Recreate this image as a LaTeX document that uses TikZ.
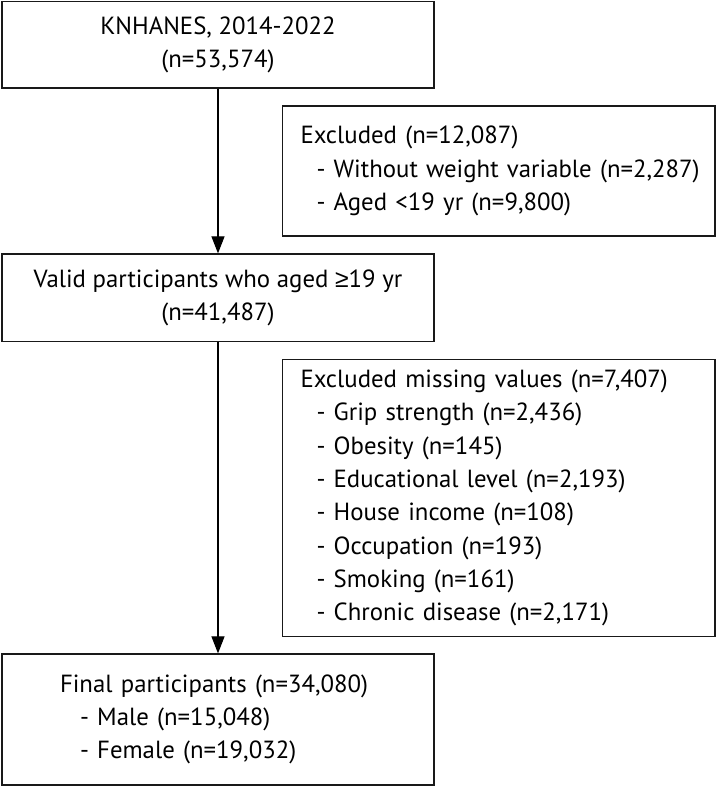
\documentclass[tikz,border=0pt]{standalone}
\usepackage{fontspec}
\setmainfont{PT Sans}
\newfontfamily\symfont{Liberation Sans}
\usetikzlibrary{arrows.meta}
\begin{document}
\begin{tikzpicture}[x=1pt,y=-1pt,
  box/.style={draw=black!90,line width=1.2pt,inner ysep=0pt,font=\fontsize{24.8}{33.3}\selectfont},
  cbox/.style={box,align=center,inner xsep=0pt},
  lbox/.style={box,align=left},
  flow/.style={line width=1.1pt,-{Triangle[width=13pt,length=17pt]}}]
\useasboundingbox (0,0) rectangle (717,786);
\node[cbox,minimum width=432pt,minimum height=86.5pt] (src) at (218,44.75)
  {KNHANES, 2014-2022\\(n=53,574)};
\node[lbox,inner xsep=18pt,text width=396.5pt,minimum height=130pt] (ex1) at (498.75,171)
  {\mbox{Excluded (n=12,087)}\\
   \mbox{\hspace*{16pt}- Without weight variable (n=2,287)}\\
   \mbox{\hspace*{16pt}- Aged <19 yr (n=9,800)}};
\node[cbox,minimum width=432pt,minimum height=87.5pt] (valid) at (218,297.75)
  {Valid participants who aged {\symfont ≥}19 yr\\(n=41,487)};
\node[lbox,inner xsep=18pt,text width=396.5pt,minimum height=277pt] (ex2) at (498.75,498)
  {\mbox{Excluded missing values (n=7,407)}\\
   \mbox{\hspace*{16pt}- Grip strength (n=2,436)}\\
   \mbox{\hspace*{16pt}- Obesity (n=145)}\\
   \mbox{\hspace*{16pt}- Educational level (n=2,193)}\\
   \mbox{\hspace*{16pt}- House income (n=108)}\\
   \mbox{\hspace*{16pt}- Occupation (n=193)}\\
   \mbox{\hspace*{16pt}- Smoking (n=161)}\\
   \mbox{\hspace*{16pt}- Chronic disease (n=2,171)}};
\node[lbox,inner xsep=58pt,text width=316pt,minimum height=131pt] (final) at (218,719.5)
  {\mbox{Final participants (n=34,080)}\\
   \mbox{\hspace*{20pt}- Male (n=15,048)}\\
   \mbox{\hspace*{20pt}- Female (n=19,032)}};
\draw[flow] (src.south) -- (valid.north);
\draw[flow] (valid.south) -- (final.north);
\end{tikzpicture}
\end{document}
